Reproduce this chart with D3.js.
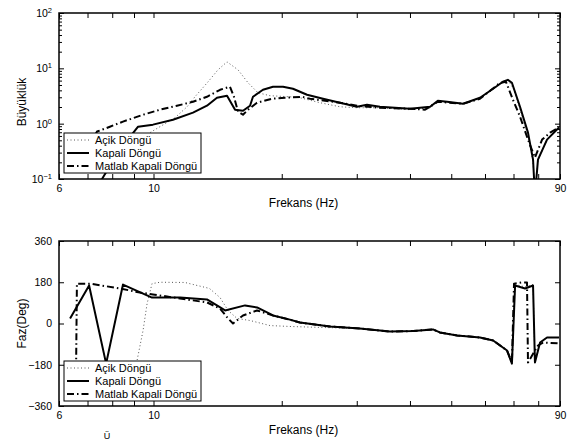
<!DOCTYPE html>
<html>
<head>
<meta charset="utf-8">
<script src="https://cdn.jsdelivr.net/npm/d3@7"></script>
<style>
  body { margin: 0; background: #fff; }
  text { font-family: "Liberation Sans", Arial, sans-serif; fill: #000; }
</style>
</head>
<body>
<div id="chart"></div>
<script>
// frequency axis
var freqMin = 6, freqMax = 90;
var freqTicks = [6, 7, 8, 9, 10, 20, 30, 40, 50, 60, 70, 80, 90];
var freqLabels = [6, 10, 90];
var magTicks = [0.1, 1, 10, 100];
var magExp = ["−1", "0", "1", "2"];
var phaseTicks = [-360, -180, 0, 180, 360];
var seriesNames = ["Açik Döngü", "Kapali Döngü", "Matlab Kapali Döngü"];

// magnitude: [freq, value]
var magAcik = [[8.5, 0.35], [10.08, 0.78], [11.23, 1.28], [11.99, 2.02], [12.51, 3.06], [13.43, 5.71],
    [14.17, 9.4], [14.88, 13.1], [15.79, 9.4], [16.67, 5.48], [17.59, 3.62], [18.77, 3.2], [20.9, 3.06],
    [22.07, 2.94], [24.6, 2.39], [27.4, 2.02], [30.04, 1.94], [34, 1.94], [40, 1.79], [44.6, 1.94],
    [46.5, 2.5], [53.3, 2.29], [58.4, 2.94], [62.7, 4.2], [66.1, 5.71], [67.9, 6.2], [70.2, 4.1],
    [72.5, 1.8], [75.7, 0.62], [77.8, 0.2], [78.6, 0.05], [79.9, 0.22], [83.9, 0.51], [89.5, 0.85]];
var magKapali = [[7.3, 0.07], [7.57, 0.1], [8.34, 0.34], [9.2, 0.88], [9.97, 0.96], [11.11, 1.18],
    [12.38, 1.58], [13.35, 2.11], [14.09, 2.94], [14.88, 3.2], [15.54, 1.79], [16.22, 1.71], [16.85, 2.11],
    [17.12, 3.06], [18.07, 4.1], [19.08, 4.65], [20.14, 4.65], [21.25, 4.27], [22.93, 3.33], [25, 2.82],
    [27.4, 2.39], [30.04, 2.02], [31.7, 2.2], [34, 2.02], [40, 1.86], [44.6, 2.02], [46.5, 2.6],
    [48.9, 2.49], [53.3, 2.29], [58.4, 2.94], [62.7, 4.27], [66.1, 5.71], [67.9, 6.2], [69.4, 5.48],
    [72.5, 2.02], [75.7, 0.69], [77.8, 0.224], [78.6, 0.05], [79.9, 0.224], [83.9, 0.515], [89.5, 0.85]];
var magMatlab = [[6.72, 0.22], [7.37, 0.72], [7.9, 0.88], [8.48, 1.09], [9.45, 1.45], [10.36, 1.79],
    [11.35, 2.11], [12.38, 2.49], [13.35, 3.06], [14.33, 4.1], [15.12, 4.65], [15.45, 3.06], [15.79, 1.65],
    [16.22, 1.45], [16.67, 1.79], [17.5, 2.39], [18.97, 2.82], [20.36, 2.94], [22.3, 3.06], [23.3, 2.82],
    [27.4, 2.39], [30.04, 2.11], [34, 1.94], [40, 1.86], [43.4, 1.79], [46.5, 2.49], [53.3, 2.29],
    [58.4, 2.82], [65.1, 5.48], [67.2, 5.71], [69.8, 2.71], [72.5, 1.34], [75.7, 0.515], [78.6, 0.244],
    [81.7, 0.515], [85.3, 0.69], [89.5, 0.85]];

// phase: [freq, degrees]
var phaseAcik = [[9.0, -250], [9.15, -161], [9.45, -31], [9.66, 87], [9.92, 174], [10.36, 180],
    [11.85, 179], [13.53, 153], [14.33, 113], [14.96, 57], [15.71, 22], [16.85, 13], [18.77, -9],
    [20.9, -13], [24.6, -17], [30.5, -22], [35.9, -35], [40.7, -33], [45.3, -26], [47, -39], [51.6, -52],
    [58.4, -61], [62.7, -74], [67.6, -118], [69.4, -175], [70.6, 170], [74.5, 160], [77.8, 170],
    [78.6, -170], [80.8, -83], [83.9, -61], [89.5, -61]];
var phaseKapali = [[6.37, 22], [7.06, 166], [7.74, -175], [8.48, 170], [9.92, 113], [11.54, 113],
    [13.35, 105], [14.09, 79], [14.72, 57], [16.4, 79], [17.5, 70], [19.08, 35], [20.9, 17], [22.07, 4],
    [25.96, -13], [30.5, -22], [35.9, -35], [40.7, -33], [45.3, -26], [47, -39], [51.6, -52], [58.4, -61],
    [62.7, -74], [67.6, -118], [69.4, -175], [70.6, 166], [74.5, 153], [77.8, 166], [78.6, -170],
    [80.8, -83], [83.9, -61], [89.5, -61]];
var phaseMatlab = [[6.58, -200], [6.61, 174], [7.09, 174], [8.34, 153], [9.29, 135], [9.97, 127],
    [11.54, 109], [13.35, 92], [14.33, 65], [14.96, 22], [15.37, 0], [16.22, 35], [17.5, 57], [19.08, 35],
    [20.9, 17], [22.07, 4], [25.96, -13], [30.5, -22], [35.9, -35], [40.7, -33], [45.3, -26], [47, -39],
    [51.6, -52], [58.4, -61], [62.7, -74], [67.6, -118], [69.4, -170], [70.2, 174], [73.3, 179],
    [75.3, 179], [75.7, -170], [79.9, -96], [82.1, -83], [89.5, -87]];

var W = 573, H = 443;
var left = 59, right = 560;
var top1 = 13, bot1 = 179, top2 = 241, bot2 = 406;

var svg = d3.select("#chart").append("svg")
    .attr("width", W).attr("height", H);

var x = d3.scaleLog().domain([freqMin, freqMax]).range([left, right]);
var yMag = d3.scaleLog().domain([0.1, 100]).range([bot1, top1]);
var yPh = d3.scaleLinear().domain([-360, 360]).range([bot2, top2]);

var styles = [
    {width: 1, dash: "1,2.5", color: "#555"},
    {width: 2, dash: null, color: "#000"},
    {width: 2, dash: "7,3,1.5,3", color: "#000"}
];

function drawPanel(id, yScale, yTop, yBot, series) {
    var g = svg.append("g");
    svg.append("clipPath").attr("id", id)
        .append("rect").attr("x", left).attr("y", yTop)
        .attr("width", right - left).attr("height", yBot - yTop);

    var lineGen = d3.line()
        .x(d => x(d[0]))
        .y(d => yScale(d[1]));

    var lg = g.append("g").attr("clip-path", "url(#" + id + ")");
    series.forEach(function(s, i) {
        lg.append("path")
            .datum(s)
            .attr("d", lineGen)
            .attr("fill", "none")
            .attr("stroke", styles[i].color)
            .attr("stroke-width", styles[i].width)
            .attr("stroke-dasharray", styles[i].dash)
            .attr("stroke-linejoin", "round");
    });

    // x axis bottom and top
    var xb = g.append("g")
        .attr("transform", "translate(0," + yBot + ")")
        .call(d3.axisBottom(x).tickValues(freqTicks).tickSize(-5).tickPadding(6)
            .tickFormat(d => freqLabels.indexOf(d) >= 0 ? d : ""));
    g.append("g")
        .attr("transform", "translate(0," + yTop + ")")
        .call(d3.axisTop(x).tickValues(freqTicks).tickSize(-5).tickFormat(""));

    g.selectAll(".domain").remove();
    g.selectAll(".tick line").attr("stroke", "#000").attr("stroke-width", 1);
    xb.selectAll("text").style("font-size", "10.5px");

    g.append("rect")
        .attr("x", left).attr("y", yTop)
        .attr("width", right - left).attr("height", yBot - yTop)
        .attr("fill", "none").attr("stroke", "#000").attr("stroke-width", 1.5);

    g.append("text")
        .attr("x", (left + right) / 2 - 6)
        .attr("y", yBot + 28)
        .attr("text-anchor", "middle")
        .style("font-size", "12px")
        .text("Frekans (Hz)");
    return g;
}

function drawLegend(g, lx, ly) {
    var lw = 137, lh = 40;
    g.append("rect").attr("x", lx).attr("y", ly).attr("width", lw).attr("height", lh)
        .attr("fill", "#fff").attr("stroke", "#000").attr("stroke-width", 1);
    seriesNames.forEach(function(name, i) {
        var yy = ly + 7 + i * 13;
        g.append("line")
            .attr("x1", lx + 3).attr("x2", lx + 25)
            .attr("y1", yy).attr("y2", yy)
            .attr("stroke", styles[i].color)
            .attr("stroke-width", styles[i].width)
            .attr("stroke-dasharray", styles[i].dash);
        g.append("text")
            .attr("x", lx + 31).attr("y", yy + 4)
            .style("font-size", "11px")
            .text(name);
    });
}

// ---- magnitude panel
var g1 = drawPanel("clipMag", yMag, top1, bot1, [magAcik, magKapali, magMatlab]);

var magMinor = [];
[0.1, 1, 10].forEach(function(dec) {
    for (var k = 2; k <= 9; k++) magMinor.push(dec * k);
});
g1.append("g").attr("transform", "translate(" + left + ",0)")
    .call(d3.axisLeft(yMag).tickValues(magMinor).tickSize(-3).tickFormat(""));
g1.append("g").attr("transform", "translate(" + right + ",0)")
    .call(d3.axisRight(yMag).tickValues(magMinor).tickSize(-3).tickFormat(""));
g1.append("g").attr("transform", "translate(" + right + ",0)")
    .call(d3.axisRight(yMag).tickValues(magTicks).tickSize(-5).tickFormat(""));
var ya1 = g1.append("g").attr("transform", "translate(" + left + ",0)")
    .call(d3.axisLeft(yMag).tickValues(magTicks).tickSize(-5).tickPadding(13).tickFormat(""));
g1.selectAll(".domain").remove();
g1.selectAll(".tick line").attr("stroke", "#000");

ya1.selectAll(".tick").each(function(d, i) {
    var t = d3.select(this).append("text")
        .attr("x", -7).attr("dy", "0.32em")
        .attr("text-anchor", "end")
        .style("font-size", "10.5px");
    t.append("tspan").text("10");
    t.append("tspan").attr("dy", "-0.5em").style("font-size", "7.5px").text(magExp[i]);
});

g1.append("text")
    .attr("transform", "translate(26," + ((top1 + bot1) / 2 + 6) + ") rotate(-90)")
    .attr("text-anchor", "middle")
    .style("font-size", "12px")
    .text("Büyüklük");

drawLegend(g1, 64, 133);

// ---- phase panel
var g2 = drawPanel("clipPh", yPh, top2, bot2, [phaseAcik, phaseKapali, phaseMatlab]);
g2.append("g").attr("transform", "translate(" + left + ",0)")
    .call(d3.axisLeft(yPh).tickValues(phaseTicks).tickSize(-5).tickPadding(7)
        .tickFormat(d => d < 0 ? "−" + Math.abs(d) : d));
g2.append("g").attr("transform", "translate(" + right + ",0)")
    .call(d3.axisRight(yPh).tickValues(phaseTicks).tickSize(-5).tickFormat(""));
g2.selectAll(".domain").remove();
g2.selectAll(".tick line").attr("stroke", "#000");
g2.selectAll(".tick text").style("font-size", "10.5px");

g2.append("text")
    .attr("transform", "translate(26," + ((top2 + bot2) / 2) + ") rotate(-90)")
    .attr("text-anchor", "middle")
    .style("font-size", "12px")
    .text("Faz(Deg)");

drawLegend(g2, 64, 361);

// small stray glyph under the phase panel
svg.append("text")
    .attr("x", 107).attr("y", 439)
    .attr("text-anchor", "middle")
    .style("font-size", "9px")
    .text("Ü");
</script>
</body>
</html>
